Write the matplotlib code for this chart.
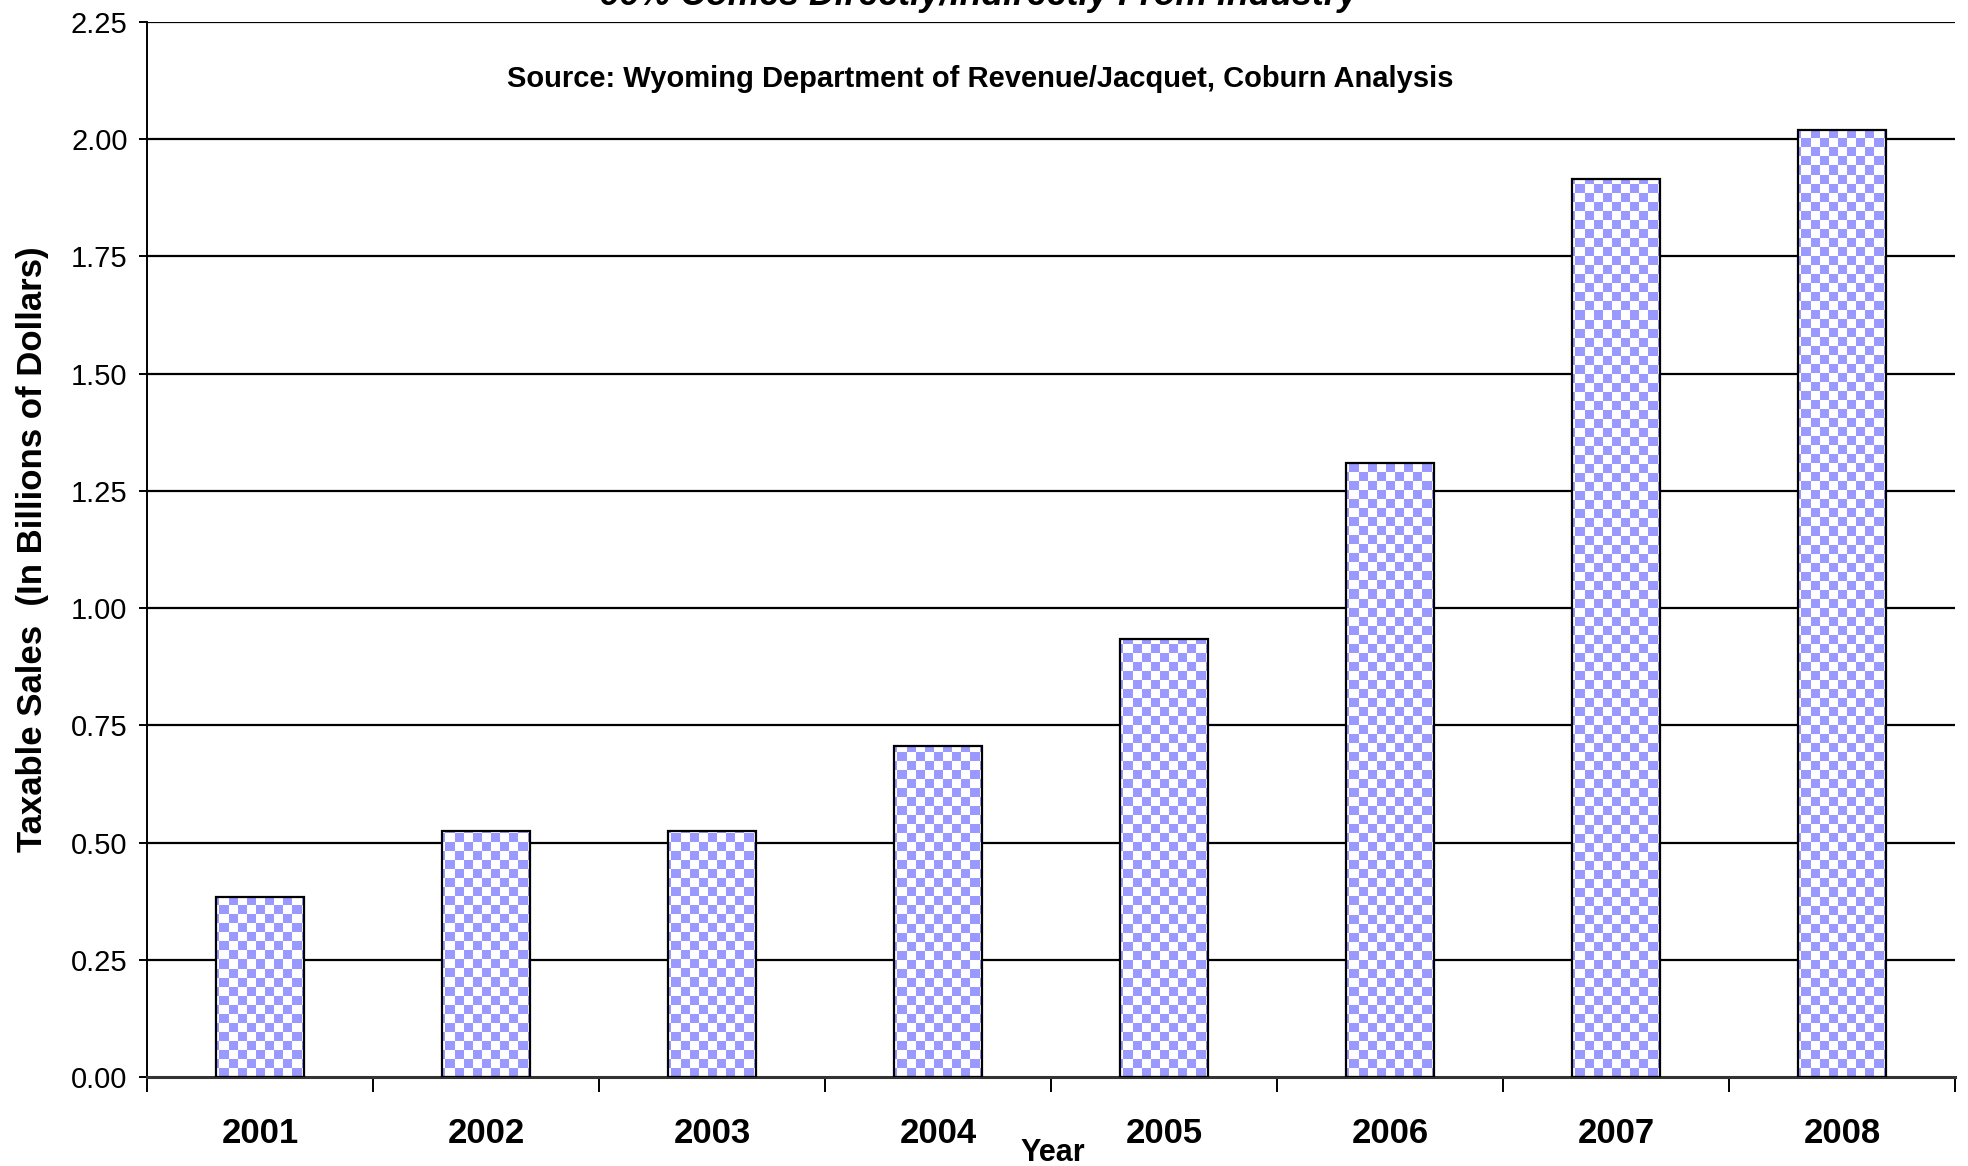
import numpy as np
import matplotlib
matplotlib.use("Agg")
import matplotlib.pyplot as plt

plt.rcParams['font.family'] = ['Liberation Sans', 'DejaVu Sans']

years = ['2001', '2002', '2003', '2004', '2005', '2006', '2007', '2008']
sales = [0.385, 0.525, 0.525, 0.705, 0.935, 1.31, 1.915, 2.02]
yticks = [0.0, 0.25, 0.5, 0.75, 1.0, 1.25, 1.5, 1.75, 2.0, 2.25]

title = "66% Comes Directly/Indirectly From Industry"
source = "Source: Wyoming Department of Revenue/Jacquet, Coburn Analysis"

fig = plt.figure(figsize=(19.68, 11.66), dpi=100)
ax = fig.add_axes([0.0747, 0.0763, 0.9187, 0.9048])

x = np.arange(len(years))
ax.set_xlim(-0.5, len(years) - 0.5)
ax.set_ylim(0, 2.25)

# gridlines
for v in yticks[1:]:
    ax.axhline(v, color='black', lw=1.6, zorder=1)

bars = ax.bar(x, sales, width=0.39, color='white', edgecolor='black', lw=1.6, zorder=2)

# checkerboard fill, clipped to each bar
ny, nx = 117, 200
ii, jj = np.indices((ny, nx))
checker = ((ii + jj) % 2).astype(float)
cmap = matplotlib.colors.ListedColormap(['#9999ff', 'white'])
for b in bars:
    im = ax.imshow(checker, extent=(-0.5, len(years) - 0.5, 0, 2.25), origin='lower',
                   aspect='auto', interpolation='nearest', cmap=cmap, zorder=2.5)
    im.set_clip_path(b)
for b in bars:
    b.set_facecolor('none')
    b.set_zorder(3)

ax.set_xlim(-0.5, len(years) - 0.5)
ax.set_ylim(0, 2.25)

ax.spines['top'].set_visible(False)
ax.spines['right'].set_visible(False)
ax.spines['left'].set_linewidth(1.4)
ax.spines['bottom'].set_linewidth(2.2)
ax.spines['bottom'].set_color('#333333')

ax.set_yticks(yticks)
ax.set_yticklabels(['%.2f' % v for v in yticks], fontsize=21)
ax.tick_params(axis='y', length=6, width=1.4, pad=8)

ax.set_xticks(np.arange(-0.5, len(years), 1.0))
ax.set_xticklabels([])
ax.tick_params(axis='x', which='major', length=11, width=1.4, direction='out')
ax.set_xticks(x, minor=True)
ax.set_xticklabels(years, minor=True, fontsize=25, fontweight='bold')
ax.tick_params(axis='x', which='minor', length=0, pad=29)

ax.set_ylabel('Taxable Sales  (In Billions of Dollars)', fontsize=25, fontweight='bold', labelpad=16)
fig.text(0.535, -0.002, 'Year', ha='center', va='bottom', fontsize=22, fontweight='bold')

ax.text(0.4608, 0.946, source, transform=ax.transAxes, ha='center', va='center',
        fontsize=21, fontweight='bold')
fig.text(0.497, 1 - 5 / 1166, title, ha='center', va='baseline',
         fontsize=25.7, fontweight='bold', fontstyle='italic')

fig.savefig('out.png', dpi=100)
